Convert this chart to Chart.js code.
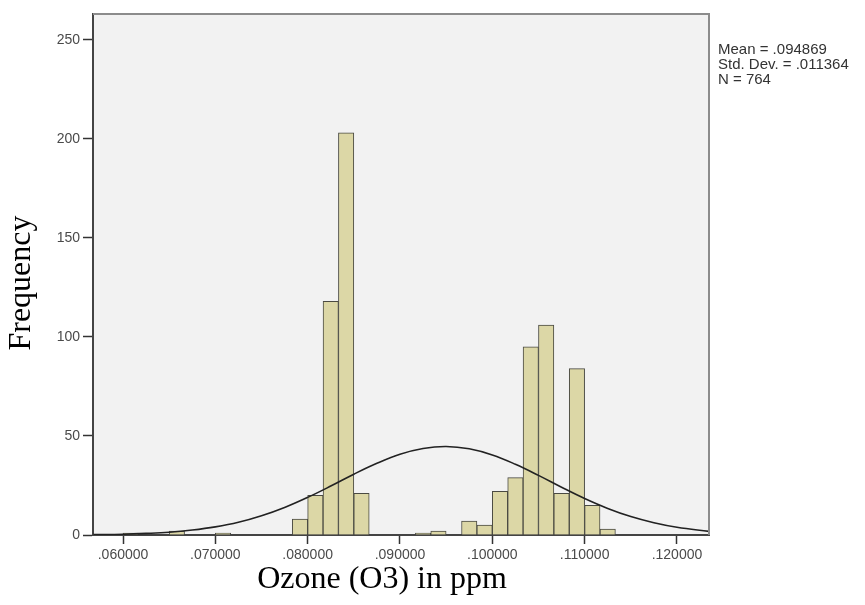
<!DOCTYPE html>
<html>
<head>
<meta charset="utf-8">
<script src="https://cdn.jsdelivr.net/npm/chart.js@4/dist/chart.umd.min.js"></script>
<style>
  body { margin: 0; background: #fff; }
  canvas { display: block; }
</style>
</head>
<body>
<canvas id="myChart" width="865" height="605"></canvas>
<script>
// histogram bins (lower edge of each bin) and counts
let binWidth = 1 / 600;
let binStart = [0.060000, 0.065000, 0.070000, 0.078333, 0.080000, 0.081667, 0.083333, 0.085000,
  0.091667, 0.093333, 0.096667, 0.098333, 0.100000, 0.101667, 0.103333, 0.105000,
  0.106667, 0.108333, 0.110000, 0.111667];
let frequency = [1, 2, 1, 8, 20, 118, 203, 21, 1, 2, 7, 5, 22, 29, 95, 106, 21, 84, 15, 3];

// normal curve
let curveX = [0.0568, 0.0600, 0.0625, 0.0650, 0.0675, 0.0700, 0.0725, 0.0750, 0.0775, 0.0800,
  0.0825, 0.0850, 0.0875, 0.0900, 0.0925, 0.0950, 0.0975, 0.1000, 0.1025, 0.1050,
  0.1075, 0.1100, 0.1125, 0.1150, 0.1175, 0.1200, 0.1235];
let curveY = [0.2, 0.4, 0.8, 1.4, 2.5, 4.1, 6.4, 9.7, 13.9, 19.0,
  24.7, 30.7, 36.2, 40.8, 43.7, 44.7, 43.5, 40.4, 35.7, 30.1,
  24.1, 18.4, 13.4, 9.3, 6.2, 3.9, 1.8];

let statLines = ['Mean = .094869', 'Std. Dev. = .011364', 'N = 764'];
let yTicks = [0, 50, 100, 150, 200, 250];
let xTicks = [0.06, 0.07, 0.08, 0.09, 0.10, 0.11, 0.12];
let xTitle = 'Ozone (O3) in ppm';
let yTitle = 'Frequency';

let bars = binStart.map((s, i) => ({ x: s + binWidth / 2, y: frequency[i] }));
let curve = curveX.map((x, i) => ({ x: x, y: curveY[i] }));

let plotBox = {
  id: 'plotBox',
  beforeDraw(chart) {
    let a = chart.chartArea, c = chart.ctx;
    c.save();
    c.fillStyle = '#f2f2f2';
    c.fillRect(a.left, a.top, a.right - a.left, a.bottom - a.top);
    c.restore();
  },
  afterDraw(chart) {
    let a = chart.chartArea, c = chart.ctx;
    c.save();
    c.strokeStyle = '#8c8c8c';
    c.lineWidth = 2;
    c.beginPath();
    c.moveTo(a.left, a.top);
    c.lineTo(a.right, a.top);
    c.lineTo(a.right, a.bottom);
    c.stroke();

    // stats box text
    c.fillStyle = '#333';
    c.font = '15px "Liberation Sans", Arial, sans-serif';
    c.textBaseline = 'top';
    statLines.forEach((t, i) => c.fillText(t, a.right + 9, 42 + i * 15));

    // axis titles (placed a bit off-centre as in the original)
    c.fillStyle = '#000';
    c.font = '32px "Liberation Serif", "Times New Roman", serif';
    c.textAlign = 'center';
    c.textBaseline = 'middle';
    c.fillText(xTitle, 382, 580);
    c.translate(22, 283);
    c.rotate(-Math.PI / 2);
    c.fillText(yTitle, 0, 0);
    c.restore();
  }
};

let ctx = document.getElementById('myChart').getContext('2d');
let tickFont = { family: '"Liberation Sans", Arial, sans-serif', size: 14 };

let myChart = new Chart(ctx, {
  type: 'bar',
  data: {
    datasets: [{
      type: 'line',
      data: curve,
      borderColor: '#222',
      borderWidth: 1.6,
      pointRadius: 0,
      tension: 0.4,
      fill: false,
      order: 0
    }, {
      type: 'bar',
      data: bars,
      backgroundColor: '#dcd7a6',
      borderColor: '#4a4a42',
      borderWidth: 1,
      barPercentage: 1,
      categoryPercentage: 1,
      order: 1
    }]
  },
  options: {
    responsive: false,
    devicePixelRatio: 1,
    animation: false,
    layout: { padding: { left: 0, right: 156, top: 14, bottom: 2 } },
    plugins: { legend: { display: false }, tooltip: { enabled: false } },
    scales: {
      x: {
        type: 'linear',
        min: 0.05675,
        max: 0.12347,
        offset: false,
        grid: { offset: false, drawOnChartArea: false, tickLength: 9, tickColor: '#333', tickWidth: 1.5 },
        border: { color: '#444', width: 2 },
        afterBuildTicks: (scale) => { scale.ticks = xTicks.map(v => ({ value: v })); },
        afterFit: (scale) => { scale.height = 68; },
        ticks: {
          color: '#4a4a4a',
          font: tickFont,
          padding: 3,
          maxRotation: 0,
          callback: (value) => value.toFixed(6).replace(/^0/, '')
        }
      },
      y: {
        min: 0,
        max: 263,
        grid: { drawOnChartArea: false, tickLength: 10, tickColor: '#333', tickWidth: 1.5 },
        border: { color: '#444', width: 2 },
        afterBuildTicks: (scale) => { scale.ticks = yTicks.map(v => ({ value: v })); },
        afterFit: (scale) => { scale.width = 93; },
        ticks: { color: '#4a4a4a', font: tickFont, padding: 3 }
      }
    }
  },
  plugins: [plotBox]
});
</script>
</body>
</html>
